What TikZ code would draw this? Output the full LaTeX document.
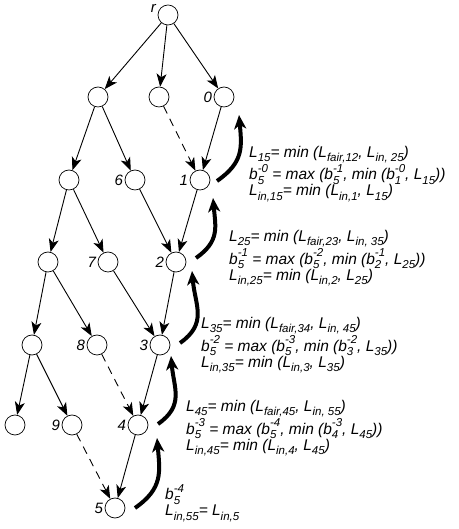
\documentclass[tikz,border=0pt]{standalone}
\usepackage{fontspec}
\setmainfont{Liberation Sans}
\usetikzlibrary{arrows.meta}

\newcommand{\sbs}[1]{\raisebox{-0.3em}{\fontsize{11.5}{10}\selectfont #1}}
\newcommand{\sps}[1]{\raisebox{0.5em}{\fontsize{11.5}{10}\selectfont #1}}
\newcommand{\Lsb}[1]{L\sbs{#1}}
\newcommand{\bsb}[2]{b\rlap{\sbs{#1}}\sps{#2}}

\tikzset{
  vtx/.style={draw, circle, minimum size=20pt, inner sep=0pt, line width=0.7pt},
  lbl/.style={inner sep=1.5pt, font=\itshape\fontsize{15}{16}\selectfont},
  edge/.style={line width=0.9pt, -{Stealth[length=13pt,width=10pt,inset=3.5pt]}},
  dashedge/.style={edge, dash pattern=on 8pt off 6pt},
  back/.style={line width=4pt, -{Stealth[length=14pt,width=12pt,inset=4pt]}},
  eqn/.style={anchor=west, align=left, inner sep=0pt, font=\itshape\fontsize{15.5}{16}\selectfont}
}

\begin{document}
\begin{tikzpicture}[x=1pt,y=1pt]
\useasboundingbox (0,0) rectangle (458,529);

% tree
\node[vtx, label={[lbl]175:r}] (r) at (168,514) {};
\node[vtx] (a) at (98,432) {};
\node[vtx] (b) at (159,432) {};
\node[vtx, label={[lbl]left:0}] (n0) at (224,432) {};
\node[vtx] (c) at (69,349) {};
\node[vtx, label={[lbl]left:6}] (n6) at (135,349) {};
\node[vtx, label={[lbl]left:1}] (n1) at (200,349) {};
\node[vtx] (d) at (48,267) {};
\node[vtx, label={[lbl]left:7}] (n7) at (108,267) {};
\node[vtx, label={[lbl]left:2}] (n2) at (176,267) {};
\node[vtx] (e) at (32,184) {};
\node[vtx, label={[lbl]left:8}] (n8) at (97,184) {};
\node[vtx, label={[lbl]left:3}] (n3) at (160,184) {};
\node[vtx] (f) at (15,104) {};
\node[vtx, label={[lbl]left:9}] (n9) at (72,104) {};
\node[vtx, label={[lbl]left:4}] (n4) at (138,104) {};
\node[vtx, label={[lbl]left:5}] (n5) at (115,21) {};

\draw[edge] (r) -- (a);
\draw[edge] (r) -- (b);
\draw[edge] (r) -- (n0);
\draw[edge] (a) -- (c);
\draw[edge] (a) -- (n6);
\draw[edge] (c) -- (d);
\draw[edge] (c) -- (n7);
\draw[edge] (d) -- (e);
\draw[edge] (d) -- (n8);
\draw[edge] (e) -- (f);
\draw[edge] (e) -- (n9);
\draw[edge] (n0) -- (n1);
\draw[edge] (n1) -- (n2);
\draw[edge] (n2) -- (n3);
\draw[edge] (n3) -- (n4);
\draw[edge] (n4) -- (n5);
\draw[edge] (n6) -- (n2);
\draw[edge] (n7) -- (n3);
\draw[dashedge] (b) -- (n1);
\draw[dashedge] (n8) -- (n4);
\draw[dashedge] (n9) -- (n5);

% update arrows
\draw[back] ([shift={(17,-1)}]n1.center) to[out=35, in=-85, looseness=1.2] ([shift={(15,-18)}]n0.center);
\draw[back] ([shift={(20,4)}]n2.center) to[out=35, in=-85, looseness=1.2] ([shift={(13,-18)}]n1.center);
\draw[back] ([shift={(20,2)}]n3.center) to[out=35, in=-85, looseness=1.2] ([shift={(16,-9)}]n2.center);
\draw[back] ([shift={(20,1)}]n4.center) to[out=35, in=-85, looseness=1.2] ([shift={(11,-11)}]n3.center);
\draw[back] ([shift={(20,0)}]n5.center) to[out=35, in=-85, looseness=1.2] ([shift={(19,-13)}]n4.center);

% equations
\node[eqn] (q1) at (249,355) {\Lsb{15}= min (\Lsb{fair,12}, \Lsb{in, 25})\\
  \bsb{5}{-0} = max (\bsb{5}{-1}, min (\bsb{1}{-0}, \Lsb{15}))\\
  \Lsb{in,15}= min (\Lsb{in,1}, \Lsb{15})};
\node[eqn] (q2) at (229,271) {\Lsb{25}= min (\Lsb{fair,23}, \Lsb{in, 35})\\
  \bsb{5}{-1} = max (\bsb{5}{-2}, min (\bsb{2}{-1}, \Lsb{25}))\\
  \Lsb{in,25}= min (\Lsb{in,2}, \Lsb{25})};
\node[eqn] (q3) at (201,184) {\Lsb{35}= min (\Lsb{fair,34}, \Lsb{in, 45})\\
  \bsb{5}{-2} = max (\bsb{5}{-3}, min (\bsb{3}{-2}, \Lsb{35}))\\
  \Lsb{in,35}= min (\Lsb{in,3}, \Lsb{35})};
\node[eqn] (q4) at (186,101) {\Lsb{45}= min (\Lsb{fair,45}, \Lsb{in, 55})\\
  \bsb{5}{-3} = max (\bsb{5}{-4}, min (\bsb{4}{-3}, \Lsb{45}))\\
  \Lsb{in,45}= min (\Lsb{in,4}, \Lsb{45})};
\node[eqn] (q5) at (165,26) {\bsb{5}{-4}\\
  \Lsb{in,55}= \Lsb{in,5}};
\end{tikzpicture}
\end{document}
